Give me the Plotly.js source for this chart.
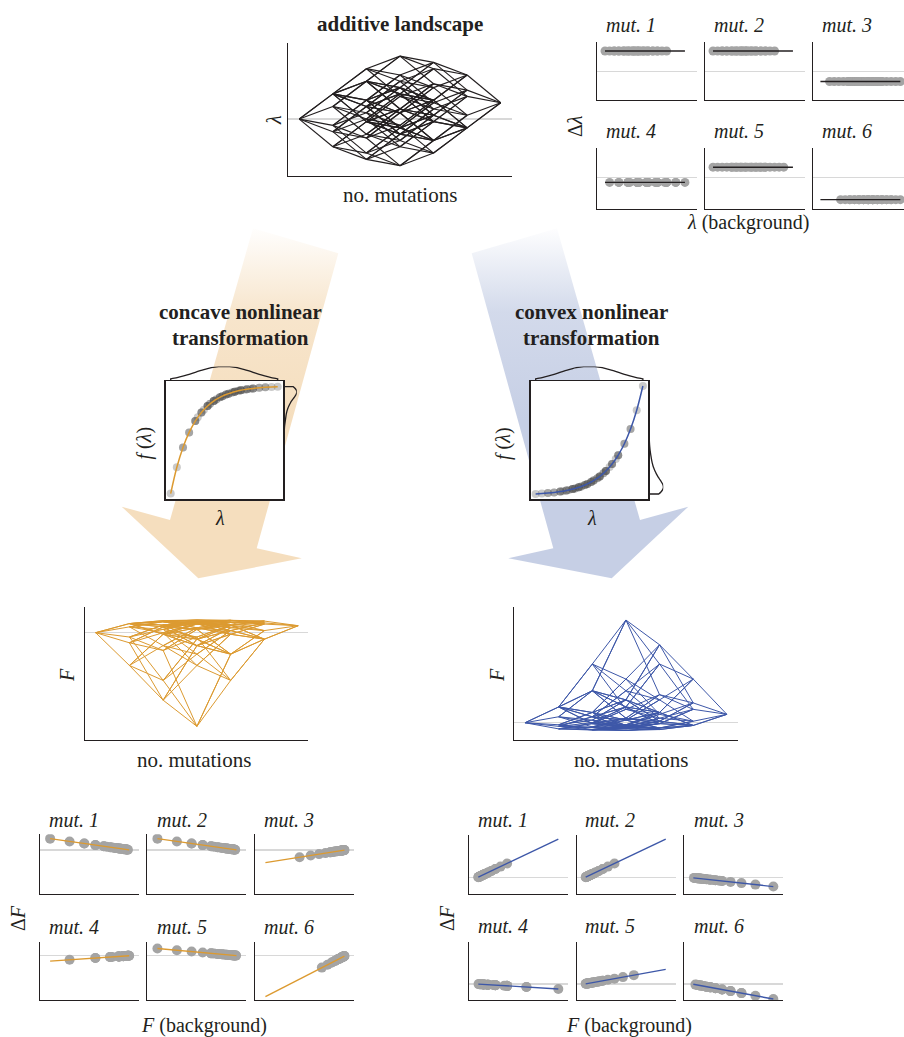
<!DOCTYPE html>
<html><head><meta charset="utf-8">
<script src="https://cdn.plot.ly/plotly-3.0.1.min.js"></script>
<style>html,body{margin:0;padding:0;background:#fff}</style>
</head><body><div id="chart" style="width:904px;height:1037px"></div>
<script>
// ---------------- DATA ----------------
const mutationLabels = ['mut. 1', 'mut. 2', 'mut. 3', 'mut. 4', 'mut. 5', 'mut. 6'];
const mutationEffects = [1.0, 1.0, -0.5, -0.25, 0.5, -1.1];   // additive effect of each mutation on λ
const concaveCurvature = 1.12;   // concave map  F = 1 - exp(-k·λ)
const convexCurvature = 1.0;     // convex map   F = exp(k·λ) - 1

// ---------------- derived landscape ----------------
const nMut = mutationEffects.length, nGeno = 1 << nMut;
const genoCount = [], lambda = [];
for (let g = 0; g < nGeno; g++) {
  let c = 0, s = 0;
  for (let i = 0; i < nMut; i++) if ((g >> i) & 1) { c++; s += mutationEffects[i]; }
  genoCount.push(c); lambda.push(+s.toFixed(6));
}
const Fconcave = lambda.map(l => 1 - Math.exp(-concaveCurvature * l));
const Fconvex = lambda.map(l => Math.exp(convexCurvature * l) - 1);

// ---------------- style ----------------
const W = 904, H = 1037;
const INK = '#231f20', ORANGE = '#DC9A30', BLUE = '#3D57A8', DOT = '#a4a4a4', ZERO = '#d8d8d8';
const FONT = "'Liberation Serif', 'Times New Roman', serif";

const layout = {width: W, height: H, margin: {l: 0, r: 0, t: 0, b: 0},
  paper_bgcolor: '#ffffff', plot_bgcolor: 'rgba(0,0,0,0)', showlegend: false,
  annotations: [], shapes: [], hovermode: false};
const traces = [];
let axN = 0;
function addAxes(l, t, r, b, xr, yr, xo, yo) {
  axN++;
  const xk = axN === 1 ? 'xaxis' : 'xaxis' + axN, yk = axN === 1 ? 'yaxis' : 'yaxis' + axN;
  const xid = axN === 1 ? 'x' : 'x' + axN, yid = axN === 1 ? 'y' : 'y' + axN;
  const base = {showline: true, linecolor: INK, linewidth: 1.1, showgrid: false, zeroline: false,
    showticklabels: false, ticks: '', fixedrange: true, type: 'linear'};
  layout[xk] = Object.assign({}, base, {domain: [l / W, Math.min(1, r / W)], range: xr, anchor: yid}, xo || {});
  layout[yk] = Object.assign({}, base, {domain: [1 - b / H, 1 - t / H], range: yr, anchor: xid}, yo || {});
  return {x: xid, y: yid};
}
function ann(text, x, y, o) {
  layout.annotations.push(Object.assign({text: text, x: x / W, y: 1 - y / H, xref: 'paper', yref: 'paper',
    showarrow: false, xanchor: 'center', yanchor: 'middle', font: {family: FONT, size: 20, color: INK}}, o || {}));
}
function edgeTrace(vals, ax, color, width) {
  const xs = [], ys = [];
  for (let g = 0; g < nGeno; g++) for (let i = 0; i < nMut; i++) if (!((g >> i) & 1)) {
    const h = g | (1 << i);
    xs.push(genoCount[g], genoCount[h], null); ys.push(vals[g], vals[h], null);
  }
  traces.push({type: 'scatter', mode: 'lines', x: xs, y: ys, xaxis: ax.x, yaxis: ax.y,
    line: {color: color, width: width}, hoverinfo: 'skip'});
}
function effectPanels(vals, cols, width, rows, xr, yrs, lineColor, dotSize, labelX, labelY) {
  const vmin = Math.min(...vals), vmax = Math.max(...vals);
  for (let i = 0; i < nMut; i++) {
    const r = Math.floor(i / 3), c = i % 3;
    const l = cols[c], rr = Math.min(W, l + width);
    const xrr = [xr[0], xr[0] + (rr - l) / width * (xr[1] - xr[0])];
    const ax = addAxes(l, rows[r][0], rr, rows[r][1], xrr, yrs[r], {}, {zeroline: true, zerolinecolor: ZERO, zerolinewidth: 1.4});
    const bx = [], by = [];
    for (let g = 0; g < nGeno; g++) if (!((g >> i) & 1)) { bx.push(vals[g]); by.push(vals[g | (1 << i)] - vals[g]); }
    const n = bx.length, mx = bx.reduce((a, b) => a + b) / n, my = by.reduce((a, b) => a + b) / n;
    let sxy = 0, sxx = 0;
    for (let k = 0; k < n; k++) { sxy += (bx[k] - mx) * (by[k] - my); sxx += (bx[k] - mx) ** 2; }
    const slope = sxx > 0 ? sxy / sxx : 0, icpt = my - slope * mx;
    traces.push({type: 'scatter', mode: 'markers', x: bx, y: by, xaxis: ax.x, yaxis: ax.y,
      marker: {size: dotSize, color: DOT}, hoverinfo: 'skip', cliponaxis: true});
    traces.push({type: 'scatter', mode: 'lines', x: [vmin, vmax], y: [icpt + slope * vmin, icpt + slope * vmax],
      xaxis: ax.x, yaxis: ax.y, line: {color: lineColor, width: 1.4}, hoverinfo: 'skip'});
    ann('<i>' + mutationLabels[i] + '</i>', labelX[c], labelY[r], {xanchor: 'left'});
  }
}

// ---------------- overlay with the two gradient arrows (decoration) ----------------
const ov = addAxes(0, 0, W, H, [0, W], [H, 0], {visible: false}, {visible: false});
const orangeArrow = [[338.3, 253.3], [253, 228.3], [170, 520], [121.7, 506.7], [198.3, 578.3], [301.7, 558.3], [256.7, 548.3]];
const blueArrow = [[471.7, 253.3], [557, 228.3], [640, 520], [688.3, 506.7], [611.7, 578.3], [508.3, 558.3], [553.3, 548.3]];
[[orangeArrow, '245,222,190'], [blueArrow, '198,207,229']].forEach(([pts, rgb]) => {
  traces.push({type: 'scatter', mode: 'lines', x: pts.map(p => p[0]).concat([pts[0][0]]), y: pts.map(p => p[1]).concat([pts[0][1]]),
    xaxis: ov.x, yaxis: ov.y, line: {width: 0, color: 'rgba(0,0,0,0)'}, fill: 'toself',
    fillgradient: {type: 'vertical', start: 225, stop: 420,
      colorscale: [[0, 'rgba(' + rgb + ',0)'], [0.45, 'rgba(' + rgb + ',0.78)'], [1, 'rgba(' + rgb + ',1)']]},
    hoverinfo: 'skip'});
});

// ---------------- additive landscape ----------------
const axA = addAxes(288.3, 43, 511.7, 176, [-0.327, 6.327], [-2.26, 3.02], {}, {zeroline: true, zerolinecolor: ZERO, zerolinewidth: 1.4});
edgeTrace(lambda, axA, INK, 1.15);
ann('<b>additive landscape</b>', 400, 24, {font: {family: FONT, size: 21, color: INK}});
ann('no. mutations', 400, 195, {font: {family: FONT, size: 21, color: INK}});
ann('<i>λ</i>', 274, 120, {textangle: -90});

// ---------------- Δλ panels ----------------
effectPanels(lambda, [597.3, 705.3, 812.7], 99.4, [[42.3, 100], [148.3, 209]], [-2.27, 3.14],
  [[-1.41, 1.43], [-1.56, 1.43]], INK, 9, [604, 711.7, 820], [25, 131.5]);
ann('Δ<i>λ</i>', 575, 126, {textangle: -90});
ann('<i>λ</i> (background)', 748, 223);

// ---------------- transformation insets ----------------
function inset(F, box, xr, yr, color, rightMargW) {
  const [l, t, r, b] = box;
  const ax = addAxes(l, t, r, b, xr, yr, {mirror: true, linewidth: 1.5}, {mirror: true, linewidth: 1.5});
  traces.push({type: 'scatter', mode: 'lines', x: [xr[0], xr[1], xr[1], xr[0], xr[0]], y: [yr[0], yr[0], yr[1], yr[1], yr[0]],
    xaxis: ax.x, yaxis: ax.y, fill: 'toself', fillcolor: '#ffffff', line: {width: 0}, hoverinfo: 'skip'});
  traces.push({type: 'scatter', mode: 'markers', x: lambda, y: F, xaxis: ax.x, yaxis: ax.y,
    marker: {size: 8, color: 'rgba(80,80,80,0.3)'}, hoverinfo: 'skip'});
  const uniq = {};
  lambda.forEach((v, k) => { uniq[v] = F[k]; });
  const ux = Object.keys(uniq).map(Number).sort((a, c) => a - c);
  traces.push({type: 'scatter', mode: 'lines', x: ux, y: ux.map(v => uniq[v]), xaxis: ax.x, yaxis: ax.y,
    line: {color: color, width: 1.5, shape: 'spline', smoothing: 1}, hoverinfo: 'skip'});
  // marginal distributions
  const axT = addAxes(l, t - 14.5, r, t, xr, [0, 1], {visible: false}, {visible: false});
  traces.push({type: 'violin', orientation: 'h', x: lambda, y0: 0, xaxis: axT.x, yaxis: axT.y, side: 'positive',
    width: 2, scalemode: 'width', spanmode: 'hard', points: false, box: {visible: false}, meanline: {visible: false},
    line: {color: INK, width: 1.3}, fillcolor: 'rgba(0,0,0,0)', hoverinfo: 'skip'});
  const axR = addAxes(r, t, r + rightMargW, b, [0, 1], yr, {visible: false}, {visible: false});
  traces.push({type: 'violin', orientation: 'v', y: F, x0: 0, xaxis: axR.x, yaxis: axR.y, side: 'positive',
    width: 2, scalemode: 'width', spanmode: 'hard', points: false, box: {visible: false}, meanline: {visible: false},
    line: {color: INK, width: 1.3}, fillcolor: 'rgba(0,0,0,0)', hoverinfo: 'skip'});
}
inset(Fconcave, [165.7, 381, 283.3, 499.3], [-2.053, 2.728], [-7.36, 1.36], ORANGE, 13.5);
inset(Fconvex, [530.7, 381, 648.3, 499], [-2.05, 2.72], [-1.40, 11.74], BLUE, 15);
ann('<b>concave nonlinear</b>', 240, 312, {font: {family: FONT, size: 21, color: INK}});
ann('<b>transformation</b>', 240, 337.5, {font: {family: FONT, size: 21, color: INK}});
ann('<b>convex nonlinear</b>', 591.7, 312, {font: {family: FONT, size: 21, color: INK}});
ann('<b>transformation</b>', 591.7, 337.5, {font: {family: FONT, size: 21, color: INK}});
ann('<i>f</i> (<i>λ</i>)', 143.5, 443, {textangle: -90});
ann('<i>f</i> (<i>λ</i>)', 503, 443, {textangle: -90});
ann('<i>λ</i>', 220, 518);
ann('<i>λ</i>', 591.7, 518);

// ---------------- transformed landscapes ----------------
const axO = addAxes(85, 607.3, 308.3, 740, [-0.316, 6.30], [-7.95, 1.88], {}, {zeroline: true, zerolinecolor: ZERO, zerolinewidth: 1.4});
edgeTrace(Fconcave, axO, ORANGE, 1.0);
const axB = addAxes(514.3, 607.3, 738.3, 740, [-0.318, 6.34], [-1.88, 12.57], {}, {zeroline: true, zerolinecolor: ZERO, zerolinewidth: 1.4});
edgeTrace(Fconvex, axB, BLUE, 1.0);
ann('<i>F</i>', 67, 675, {textangle: -90});
ann('<i>F</i>', 497, 675, {textangle: -90});
ann('no. mutations', 194, 760, {font: {family: FONT, size: 21, color: INK}});
ann('no. mutations', 631, 760, {font: {family: FONT, size: 21, color: INK}});

// ---------------- ΔF panels ----------------
effectPanels(Fconcave, [40, 147.3, 255.3], 98.5, [[834.3, 894.3], [941.7, 1000]], [-7.95, 1.87],
  [[-20.9, 7.4], [-20.9, 6.6]], ORANGE, 10, [46.7, 155, 262.3], [820, 926.5]);
effectPanels(Fconvex, [469.3, 576.7, 684.3], 99, [[835, 894.3], [941.7, 1000]], [-2.195, 12.68],
  [[-8.97, 23.1], [-8.65, 22.9]], BLUE, 10, [476, 583.3, 691.7], [820, 926]);
ann('Δ<i>F</i>', 18, 918, {textangle: -90});
ann('Δ<i>F</i>', 447, 918, {textangle: -90});
ann('<i>F</i> (background)', 204, 1025);
ann('<i>F</i> (background)', 629, 1025);

Plotly.newPlot('chart', traces, layout, {staticPlot: true, displayModeBar: false});
</script></body></html>
